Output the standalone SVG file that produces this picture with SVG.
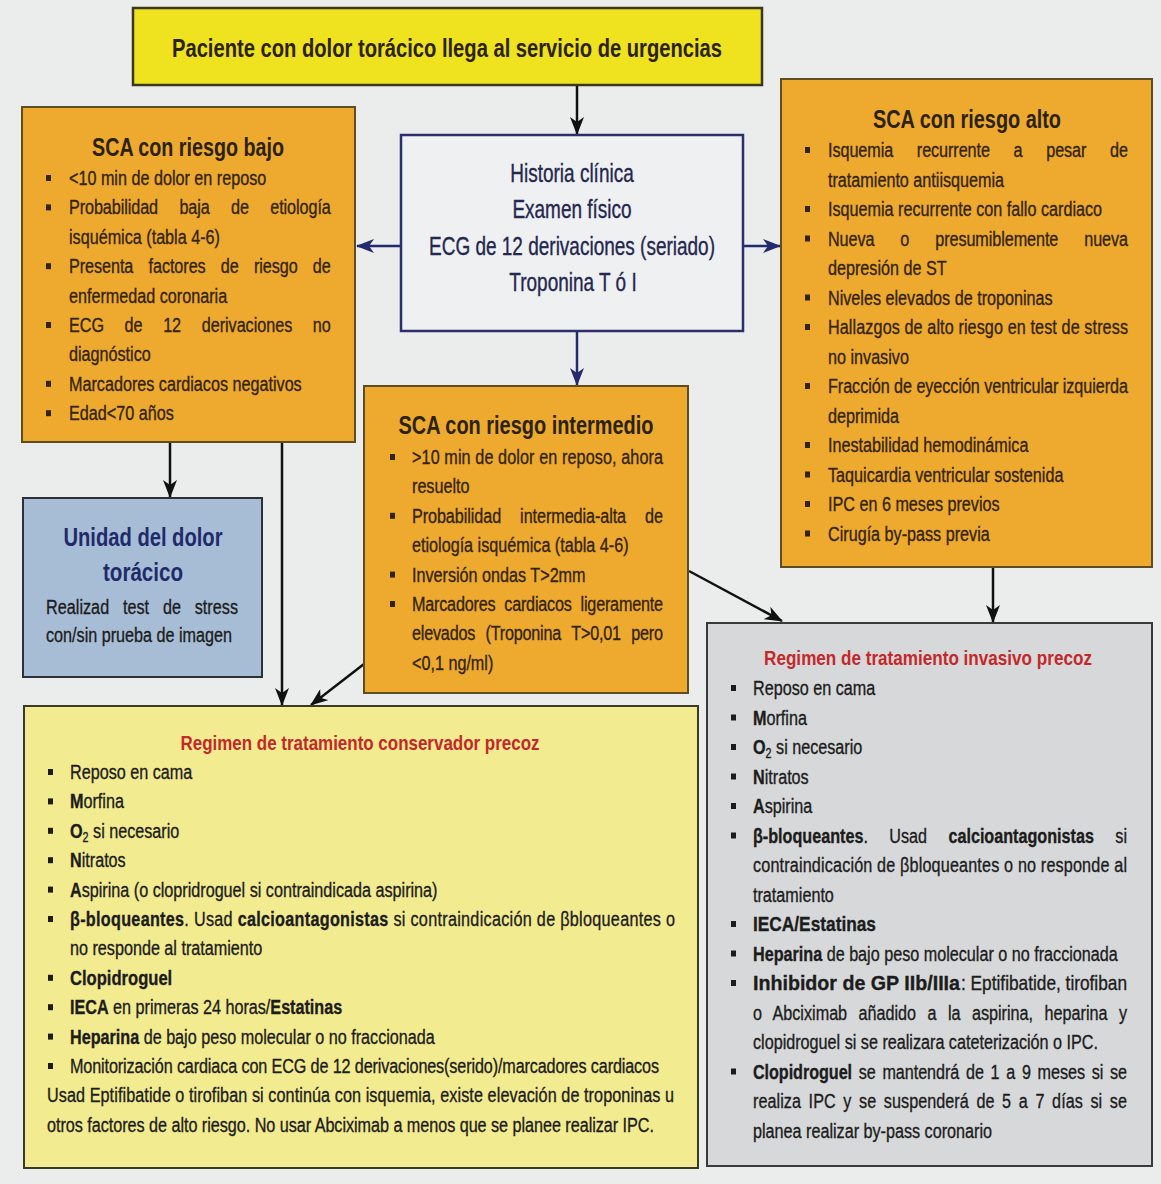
<svg xmlns="http://www.w3.org/2000/svg" width="1161" height="1184" viewBox="0 0 1161 1184">
<defs>
<style>
.t{font-family:"Liberation Sans",Arial,sans-serif;font-size:21px;fill:#33240f;stroke:#33240f;stroke-width:0.35}
.k{fill:#1c1c1c;stroke:#1c1c1c}
.h{font-family:"Liberation Sans",Arial,sans-serif;font-weight:bold;font-size:25px;fill:#2c2210}
.r{font-family:"Liberation Sans",Arial,sans-serif;font-weight:bold;font-size:21px;fill:#c3282b}
.c{font-family:"Liberation Sans",Arial,sans-serif;font-size:25px;fill:#24274f;stroke:#24274f;stroke-width:0.35}
.b{font-weight:bold}
.bu{fill:#33240f}
.bk{fill:#1c1c1c}
.ln{fill:none;stroke:#111;stroke-width:2.5}
.nv{fill:none;stroke:#232a6e;stroke-width:2.5}
</style>
<marker id="ak" markerUnits="userSpaceOnUse" markerWidth="18" markerHeight="14" refX="17" refY="7" orient="auto"><path d="M0,0 L18,7 L0,14 L5,7 Z" fill="#111"/></marker>
<marker id="an" markerUnits="userSpaceOnUse" markerWidth="18" markerHeight="14" refX="17" refY="7" orient="auto"><path d="M0,0 L18,7 L0,14 L5,7 Z" fill="#232a6e"/></marker>
</defs>
<rect width="1161" height="1184" fill="#ebedec"/>

<g id="connectors">
<line class="ln" x1="577" y1="86" x2="577" y2="134" marker-end="url(#ak)"/>
<line class="nv" x1="401" y1="246" x2="357" y2="246" marker-end="url(#an)"/>
<line class="nv" x1="743" y1="246" x2="780" y2="246" marker-end="url(#an)"/>
<line class="nv" x1="577" y1="331" x2="577" y2="385" marker-end="url(#an)"/>
<line class="ln" x1="170" y1="443" x2="170" y2="497" marker-end="url(#ak)"/>
<line class="ln" x1="282" y1="443" x2="282" y2="705" marker-end="url(#ak)"/>
<line class="ln" x1="364" y1="664" x2="311" y2="705" marker-end="url(#ak)"/>
<line class="ln" x1="689" y1="571" x2="782" y2="621" marker-end="url(#ak)"/>
<line class="ln" x1="993" y1="568" x2="993" y2="622" marker-end="url(#ak)"/>
</g>

<g id="inicio">
<rect x="133" y="8" width="629" height="77" fill="#efe21e" stroke="#3a3618" stroke-width="2.5"/>
<text class="h" x="447" y="57" text-anchor="middle" textLength="550" lengthAdjust="spacingAndGlyphs">Paciente con dolor torácico llega al servicio de urgencias</text>
</g>

<g id="evaluacion">
<rect x="401" y="135" width="342" height="196" fill="#eef0f1" stroke="#2b2f6b" stroke-width="2.5"/>
<text class="c" text-anchor="middle" transform="matrix(.76 0 0 1 572 182)">Historia clínica</text>
<text class="c" text-anchor="middle" transform="matrix(.76 0 0 1 572 218)">Examen físico</text>
<text class="c" text-anchor="middle" transform="matrix(.76 0 0 1 572 255)">ECG de 12 derivaciones (seriado)</text>
<text class="c" text-anchor="middle" transform="matrix(.76 0 0 1 573 291)">Troponina T ó I</text>
</g>

<g id="riesgo-bajo">
<rect x="22" y="107" width="333" height="335" fill="#eea92f" stroke="#5e4c22" stroke-width="2"/>
<text class="h" x="188" y="156" text-anchor="middle" textLength="192" lengthAdjust="spacingAndGlyphs">SCA con riesgo bajo</text>
<rect class="bu" x="46" y="175" width="5" height="6"/>
<rect class="bu" x="46" y="204.4" width="5" height="6"/>
<rect class="bu" x="46" y="263.2" width="5" height="6"/>
<rect class="bu" x="46" y="322" width="5" height="6"/>
<rect class="bu" x="46" y="380.8" width="5" height="6"/>
<rect class="bu" x="46" y="410.2" width="5" height="6"/>
<text class="t" transform="matrix(.77 0 0 1 69 185)">&lt;10 min de dolor en reposo</text>
<text class="t" transform="matrix(.77 0 0 1 69 214.4)" style="word-spacing:22px" textLength="340" lengthAdjust="spacing">Probabilidad baja de etiología</text>
<text class="t" transform="matrix(.77 0 0 1 69 243.8)">isquémica (tabla 4-6)</text>
<text class="t" transform="matrix(.77 0 0 1 69 273.2)" style="word-spacing:14px" textLength="340" lengthAdjust="spacing">Presenta factores de riesgo de</text>
<text class="t" transform="matrix(.77 0 0 1 69 302.6)">enfermedad coronaria</text>
<text class="t" transform="matrix(.77 0 0 1 69 332)" style="word-spacing:21px" textLength="340" lengthAdjust="spacing">ECG de 12 derivaciones no</text>
<text class="t" transform="matrix(.77 0 0 1 69 361.4)">diagnóstico</text>
<text class="t" transform="matrix(.77 0 0 1 69 390.8)">Marcadores cardiacos negativos</text>
<text class="t" transform="matrix(.77 0 0 1 69 420.2)">Edad&lt;70 años</text>
</g>

<g id="riesgo-alto">
<rect x="781" y="79" width="371" height="488" fill="#eea92f" stroke="#5e4c22" stroke-width="2"/>
<text class="h" x="967" y="128" text-anchor="middle" textLength="188" lengthAdjust="spacingAndGlyphs">SCA con riesgo alto</text>
<rect class="bu" x="805" y="147" width="5" height="6"/>
<rect class="bu" x="805" y="206" width="5" height="6"/>
<rect class="bu" x="805" y="235.5" width="5" height="6"/>
<rect class="bu" x="805" y="294.5" width="5" height="6"/>
<rect class="bu" x="805" y="324" width="5" height="6"/>
<rect class="bu" x="805" y="383" width="5" height="6"/>
<rect class="bu" x="805" y="442" width="5" height="6"/>
<rect class="bu" x="805" y="471.5" width="5" height="6"/>
<rect class="bu" x="805" y="501" width="5" height="6"/>
<rect class="bu" x="805" y="530.5" width="5" height="6"/>
<text class="t" transform="matrix(.77 0 0 1 828 157)" style="word-spacing:25px" textLength="389.6" lengthAdjust="spacing">Isquemia recurrente a pesar de</text>
<text class="t" transform="matrix(.77 0 0 1 828 186.5)">tratamiento antiisquemia</text>
<text class="t" transform="matrix(.77 0 0 1 828 216)">Isquemia recurrente con fallo cardiaco</text>
<text class="t" transform="matrix(.77 0 0 1 828 245.5)" style="word-spacing:28px" textLength="389.6" lengthAdjust="spacing">Nueva o presumiblemente nueva</text>
<text class="t" transform="matrix(.77 0 0 1 828 275)">depresión de ST</text>
<text class="t" transform="matrix(.77 0 0 1 828 304.5)">Niveles elevados de troponinas</text>
<text class="t" transform="matrix(.77 0 0 1 828 334)" textLength="389.6" lengthAdjust="spacing">Hallazgos de alto riesgo en test de stress</text>
<text class="t" transform="matrix(.77 0 0 1 828 363.5)">no invasivo</text>
<text class="t" transform="matrix(.77 0 0 1 828 393)" textLength="389.6" lengthAdjust="spacing">Fracción de eyección ventricular izquierda</text>
<text class="t" transform="matrix(.77 0 0 1 828 422.5)">deprimida</text>
<text class="t" transform="matrix(.77 0 0 1 828 452)">Inestabilidad hemodinámica</text>
<text class="t" transform="matrix(.77 0 0 1 828 481.5)">Taquicardia ventricular sostenida</text>
<text class="t" transform="matrix(.77 0 0 1 828 511)">IPC en 6 meses previos</text>
<text class="t" transform="matrix(.77 0 0 1 828 540.5)">Cirugía by-pass previa</text>
</g>

<g id="riesgo-intermedio">
<rect x="364" y="386" width="324" height="307" fill="#eea92f" stroke="#5e4c22" stroke-width="2"/>
<text class="h" x="526" y="434" text-anchor="middle" textLength="255" lengthAdjust="spacingAndGlyphs">SCA con riesgo intermedio</text>
<rect class="bu" x="390" y="454" width="5" height="6"/>
<rect class="bu" x="390" y="512.8" width="5" height="6"/>
<rect class="bu" x="390" y="571.6" width="5" height="6"/>
<rect class="bu" x="390" y="601" width="5" height="6"/>
<text class="t" transform="matrix(.77 0 0 1 412 464)" textLength="326" lengthAdjust="spacing">&gt;10 min de dolor en reposo, ahora</text>
<text class="t" transform="matrix(.77 0 0 1 412 493.4)">resuelto</text>
<text class="t" transform="matrix(.77 0 0 1 412 522.8)" style="word-spacing:19px" textLength="326" lengthAdjust="spacing">Probabilidad intermedia-alta de</text>
<text class="t" transform="matrix(.77 0 0 1 412 552.2)">etiología isquémica (tabla 4-6)</text>
<text class="t" transform="matrix(.77 0 0 1 412 581.6)">Inversión ondas T&gt;2mm</text>
<text class="t" transform="matrix(.77 0 0 1 412 611)" style="word-spacing:6px" textLength="326" lengthAdjust="spacing">Marcadores cardiacos ligeramente</text>
<text class="t" transform="matrix(.77 0 0 1 412 640.4)" style="word-spacing:8px" textLength="326" lengthAdjust="spacing">elevados (Troponina T&gt;0,01 pero</text>
<text class="t" transform="matrix(.77 0 0 1 412 669.8)">&lt;0,1 ng/ml)</text>
</g>

<g id="unidad-dolor">
<rect x="23" y="498" width="239" height="179" fill="#a7bdd6" stroke="#2e3038" stroke-width="2"/>
<text class="h" x="143" y="546" text-anchor="middle" textLength="159" lengthAdjust="spacingAndGlyphs" style="fill:#1f2a6b">Unidad del dolor</text>
<text class="h" x="143" y="581" text-anchor="middle" textLength="80" lengthAdjust="spacingAndGlyphs" style="fill:#1f2a6b">torácico</text>
<text class="t k" transform="matrix(.77 0 0 1 46 614)" style="word-spacing:12px" textLength="249.4" lengthAdjust="spacing">Realizad test de stress</text>
<text class="t k" transform="matrix(.77 0 0 1 46 642)">con/sin prueba de imagen</text>
</g>

<g id="conservador">
<rect x="24" y="706" width="674" height="462" fill="#f3eb90" stroke="#3a3a2a" stroke-width="2"/>
<text class="r" x="360" y="750" text-anchor="middle" textLength="359" lengthAdjust="spacingAndGlyphs">Regimen de tratamiento conservador precoz</text>
<rect class="bk" x="48" y="769" width="5" height="6"/>
<rect class="bk" x="48" y="798.4" width="5" height="6"/>
<rect class="bk" x="48" y="827.8" width="5" height="6"/>
<rect class="bk" x="48" y="857.2" width="5" height="6"/>
<rect class="bk" x="48" y="886.6" width="5" height="6"/>
<rect class="bk" x="48" y="916" width="5" height="6"/>
<rect class="bk" x="48" y="974.8" width="5" height="6"/>
<rect class="bk" x="48" y="1004.2" width="5" height="6"/>
<rect class="bk" x="48" y="1033.6" width="5" height="6"/>
<rect class="bk" x="48" y="1063" width="5" height="6"/>
<text class="t k" transform="matrix(.77 0 0 1 70 779)">Reposo en cama</text>
<text class="t k" transform="matrix(.77 0 0 1 70 808.4)"><tspan class="b">M</tspan>orfina</text>
<text class="t k" transform="matrix(.77 0 0 1 70 837.8)"><tspan class="b">O</tspan><tspan font-size="14" dy="4">2</tspan><tspan dy="-4"> si necesario</tspan></text>
<text class="t k" transform="matrix(.77 0 0 1 70 867.2)"><tspan class="b">N</tspan>itratos</text>
<text class="t k" transform="matrix(.77 0 0 1 70 896.6)"><tspan class="b">A</tspan>spirina (o clopridroguel si contraindicada aspirina)</text>
<text class="t k" transform="matrix(.77 0 0 1 70 926)" textLength="785.7" lengthAdjust="spacing"><tspan class="b">β-bloqueantes</tspan>. Usad <tspan class="b">calcioantagonistas</tspan> si contraindicación de βbloqueantes o</text>
<text class="t k" transform="matrix(.77 0 0 1 70 955.4)">no responde al tratamiento</text>
<text class="t k b" transform="matrix(.79 0 0 1 70 984.8)">Clopidroguel</text>
<text class="t k" transform="matrix(.77 0 0 1 70 1014.2)"><tspan class="b">IECA</tspan> en primeras 24 horas/<tspan class="b">Estatinas</tspan></text>
<text class="t k" transform="matrix(.77 0 0 1 70 1043.6)"><tspan class="b">Heparina</tspan> de bajo peso molecular o no fraccionada</text>
<text class="t k" transform="matrix(.77 0 0 1 70 1073)" textLength="765" lengthAdjust="spacing">Monitorización cardiaca con ECG de 12 derivaciones(serido)/marcadores cardiacos</text>
<text class="t k" transform="matrix(.77 0 0 1 47 1102.4)" textLength="814.3" lengthAdjust="spacing">Usad Eptifibatide o tirofiban si continúa con isquemia, existe elevación de troponinas u</text>
<text class="t k" transform="matrix(.77 0 0 1 47 1131.8)" textLength="788.3" lengthAdjust="spacing">otros factores de alto riesgo. No usar Abciximab a menos que se planee realizar IPC.</text>
</g>

<g id="invasivo">
<rect x="707" y="623" width="445" height="543" fill="#d6d8d9" stroke="#3a3a3a" stroke-width="2"/>
<text class="r" text-anchor="middle" transform="matrix(.815 0 0 1 928 665)">Regimen de tratamiento invasivo precoz</text>
<rect class="bk" x="731" y="685" width="5" height="6"/>
<rect class="bk" x="731" y="714.5" width="5" height="6"/>
<rect class="bk" x="731" y="744" width="5" height="6"/>
<rect class="bk" x="731" y="773.5" width="5" height="6"/>
<rect class="bk" x="731" y="803" width="5" height="6"/>
<rect class="bk" x="731" y="832.5" width="5" height="6"/>
<rect class="bk" x="731" y="921" width="5" height="6"/>
<rect class="bk" x="731" y="950.5" width="5" height="6"/>
<rect class="bk" x="731" y="980" width="5" height="6"/>
<rect class="bk" x="731" y="1068.5" width="5" height="6"/>
<text class="t k" transform="matrix(.77 0 0 1 753 695)">Reposo en cama</text>
<text class="t k" transform="matrix(.77 0 0 1 753 724.5)"><tspan class="b">M</tspan>orfina</text>
<text class="t k" transform="matrix(.77 0 0 1 753 754)"><tspan class="b">O</tspan><tspan font-size="14" dy="4">2</tspan><tspan dy="-4"> si necesario</tspan></text>
<text class="t k" transform="matrix(.77 0 0 1 753 783.5)"><tspan class="b">N</tspan>itratos</text>
<text class="t k" transform="matrix(.77 0 0 1 753 813)"><tspan class="b">A</tspan>spirina</text>
<text class="t k" transform="matrix(.77 0 0 1 753 842.5)" style="word-spacing:22px" textLength="485.7" lengthAdjust="spacing"><tspan class="b">β-bloqueantes</tspan>. Usad <tspan class="b">calcioantagonistas</tspan> si</text>
<text class="t k" transform="matrix(.77 0 0 1 753 872)" textLength="485.7" lengthAdjust="spacing">contraindicación de βbloqueantes o no responde al</text>
<text class="t k" transform="matrix(.77 0 0 1 753 901.5)">tratamiento</text>
<text class="t k b" x="753" y="931" textLength="123" lengthAdjust="spacingAndGlyphs">IECA/Estatinas</text>
<text class="t k" transform="matrix(.77 0 0 1 753 960.5)"><tspan class="b">Heparina</tspan> de bajo peso molecular o no fraccionada</text>
<text class="t k b" x="753" y="990" textLength="207" lengthAdjust="spacingAndGlyphs">Inhibidor de GP IIb/IIIa</text>
<text class="t k" x="961" y="990" textLength="166" lengthAdjust="spacingAndGlyphs">: Eptifibatide, tirofiban</text>
<text class="t k" transform="matrix(.77 0 0 1 753 1019.5)" style="word-spacing:9px" textLength="485.7" lengthAdjust="spacing">o Abciximab añadido a la aspirina, heparina y</text>
<text class="t k" transform="matrix(.77 0 0 1 753 1049)">clopidroguel si se realizara cateterización o IPC.</text>
<text class="t k" transform="matrix(.77 0 0 1 753 1078.5)" style="word-spacing:3px" textLength="485.7" lengthAdjust="spacing"><tspan class="b">Clopidroguel</tspan> se mantendrá de 1 a 9 meses si se</text>
<text class="t k" transform="matrix(.77 0 0 1 753 1108)" style="word-spacing:4px" textLength="485.7" lengthAdjust="spacing">realiza IPC y se suspenderá de 5 a 7 días si se</text>
<text class="t k" transform="matrix(.77 0 0 1 753 1137.5)">planea realizar by-pass coronario</text>
</g>
</svg>
